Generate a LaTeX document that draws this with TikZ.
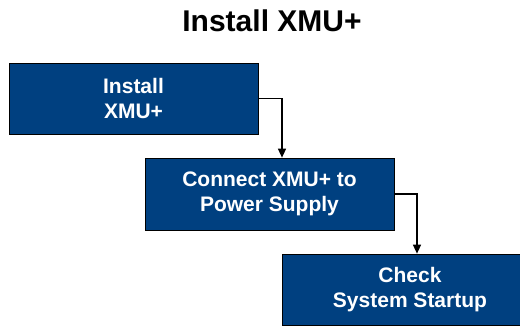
\documentclass[tikz,border=0pt]{standalone}
\usepackage{fontspec}
\setmainfont{Liberation Sans}
\usetikzlibrary{arrows.meta}
\definecolor{stepblue}{RGB}{0,64,128}
\begin{document}
\begin{tikzpicture}[x=1pt,y=1pt,-{Triangle[length=9pt,width=8pt]},line width=1.4pt,draw=black]
	\def \titleht{294}
	\def \rowone{226.5}
	\def \rowtwo{131}
	\def \rowthree{35.5}
	\tikzstyle{step-node}=[rectangle,draw=black,line width=0.7pt,fill=stepblue,text=white,font=\bfseries\fontsize{21}{25}\selectfont,align=center,inner sep=0pt,minimum height=71pt]
	\tikzstyle{title}=[font=\bfseries\fontsize{30}{36}\selectfont,anchor=base]
	\useasboundingbox (0,0) rectangle (520,325);
	\clip (0,0) rectangle (520,325);
	% title
	\node[title] (heading) at (272,\titleht) {Install XMU+};

	% steps
	\node[step-node,minimum width=249pt] (install)	at (133.5,\rowone)	{Install\\XMU+};
	\node[step-node,minimum width=249pt,minimum height=72pt] (connect)	at (269.5,\rowtwo)	{Connect XMU+ to\\Power Supply};
	\node[step-node,minimum width=256pt] (check)	at (410,\rowthree)	{Check\\System Startup};

	\draw (install.east)	-| ([xshift=12.5pt]connect.north);
	\draw (connect.east)	-| ([xshift=7pt]check.north);
\end{tikzpicture}
\end{document}
